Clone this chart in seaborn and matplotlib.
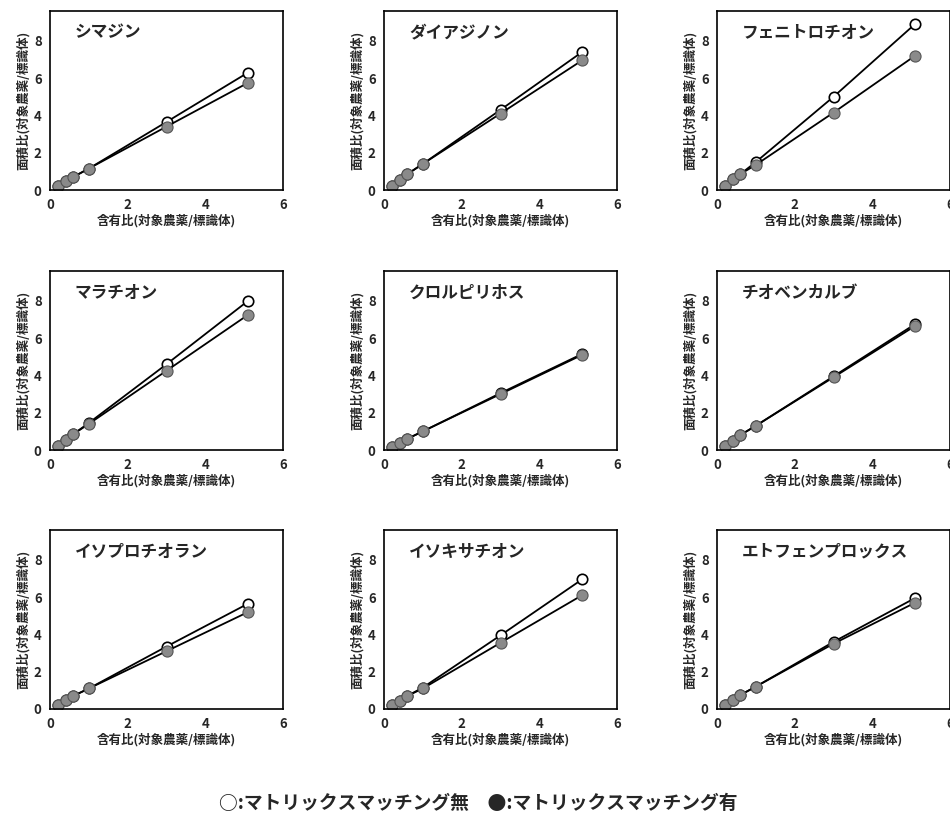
import numpy as np
import pandas as pd
import matplotlib
matplotlib.use("Agg")
import matplotlib.pyplot as plt
import seaborn as sns

sns.set_style("white")
plt.rcParams['font.family'] = ['Noto Sans CJK JP', 'DejaVu Sans']

ratio = [0.2, 0.4, 0.6, 1.0, 3.0, 5.1]

names = ["シマジン", "ダイアジノン", "フェニトロチオン",
         "マラチオン", "クロルピリホス", "チオベンカルブ",
         "イソプロチオラン", "イソキサチオン", "エトフェンプロックス"]

# without matrix matching (open circles)
no_match = [
    [0.2, 0.5, 0.7, 1.15, 3.65, 6.3],
    [0.2, 0.55, 0.85, 1.4, 4.3, 7.4],
    [0.2, 0.6, 0.85, 1.5, 5.0, 8.9],
    [0.2, 0.55, 0.85, 1.45, 4.6, 8.0],
    [0.15, 0.4, 0.6, 1.0, 3.05, 5.15],
    [0.2, 0.5, 0.8, 1.3, 3.95, 6.75],
    [0.2, 0.5, 0.7, 1.1, 3.35, 5.65],
    [0.2, 0.45, 0.7, 1.15, 3.95, 6.95],
    [0.2, 0.5, 0.75, 1.2, 3.6, 5.95],
]
# with matrix matching (filled circles)
match = [
    [0.2, 0.5, 0.7, 1.15, 3.4, 5.75],
    [0.2, 0.55, 0.85, 1.4, 4.1, 6.95],
    [0.2, 0.6, 0.85, 1.35, 4.15, 7.2],
    [0.2, 0.55, 0.85, 1.4, 4.25, 7.25],
    [0.15, 0.4, 0.6, 1.0, 3.0, 5.1],
    [0.2, 0.5, 0.8, 1.3, 3.9, 6.65],
    [0.2, 0.5, 0.7, 1.1, 3.1, 5.2],
    [0.2, 0.45, 0.7, 1.1, 3.55, 6.1],
    [0.2, 0.5, 0.75, 1.2, 3.5, 5.7],
]

fig = plt.figure(figsize=(9.5, 8.23), dpi=100)
W, H = 950, 823
lefts = [50, 384, 717]
tops = [11, 271, 530]
aw, ah = 233, 179

for i, name in enumerate(names):
    r, c = divmod(i, 3)
    ax = fig.add_axes([lefts[c] / W, 1 - (tops[r] + ah) / H, aw / W, ah / H])
    sns.lineplot(x=ratio, y=no_match[i], ax=ax, color="black", lw=1.3,
                 marker="o", markersize=7.5, markerfacecolor="white",
                 markeredgecolor="black", markeredgewidth=1.2)
    sns.lineplot(x=ratio, y=match[i], ax=ax, color="black", lw=1.3,
                 marker="o", markersize=8, markerfacecolor="#8a8a8a",
                 markeredgecolor="#555555", markeredgewidth=0.8)
    ax.set_xlim(0, 6)
    ax.set_ylim(0, 9.6)
    ax.set_xticks([0, 2, 4, 6])
    ax.set_yticks([0, 2, 4, 6, 8])
    ax.tick_params(direction="in", length=3, labelsize=9.5, width=1, pad=6)
    for lab in ax.get_xticklabels() + ax.get_yticklabels():
        lab.set_fontweight("bold")
    for s in ax.spines.values():
        s.set_color("black")
        s.set_linewidth(1.2)
    ax.set_xlabel("含有比(対象農薬/標識体)", fontsize=9, fontweight="bold", labelpad=1)
    ax.set_ylabel("面積比(対象農薬/標識体)", fontsize=9, fontweight="bold", labelpad=3)
    ax.text(0.107, 0.88, name, transform=ax.transAxes, fontsize=12,
            fontweight="bold", va="center", ha="left")

fig.text(0.503, 1 - 803 / H, "○:マトリックスマッチング無　●:マトリックスマッチング有",
         ha="center", va="center", fontsize=13.5, fontweight="bold")

fig.savefig("out.png", dpi=100)
